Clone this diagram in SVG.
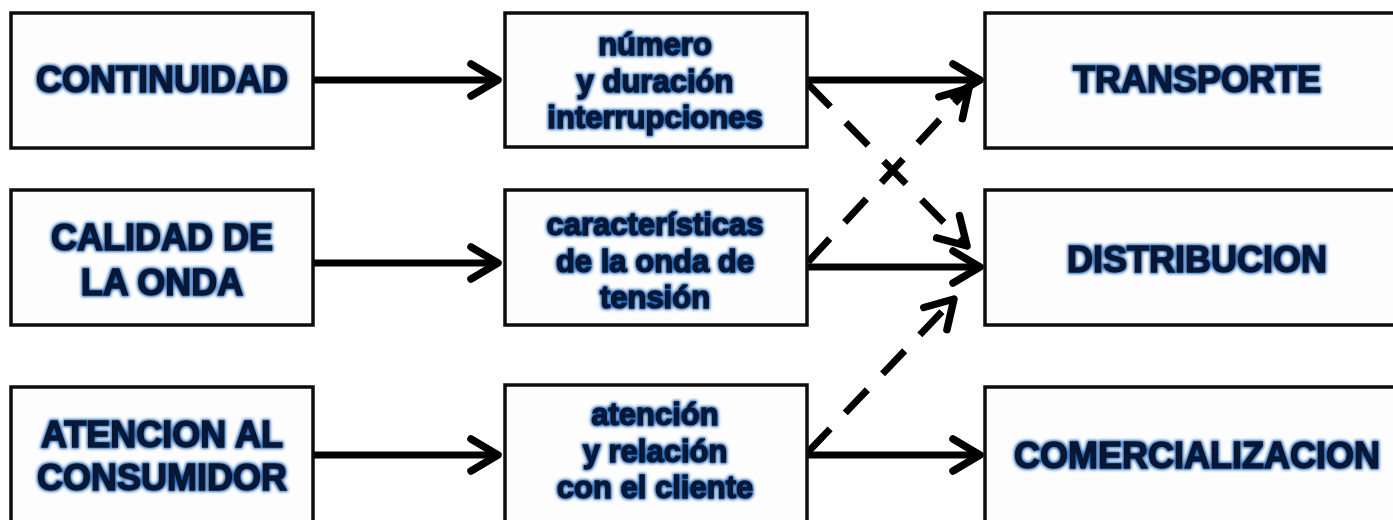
<svg xmlns="http://www.w3.org/2000/svg" width="1393" height="520" viewBox="0 0 1393 520">
<defs>
<style>
.box{fill:#fdfdfd;stroke:#0d0d0d;stroke-width:3.5}
.big{font-family:"Liberation Sans",Arial,sans-serif;font-weight:bold;font-size:36px;fill:#071633;stroke:#071633;stroke-width:1.3;text-anchor:middle;filter:url(#glow)}
.small{font-family:"Liberation Sans",Arial,sans-serif;font-weight:bold;font-size:31px;fill:#071633;stroke:#071633;stroke-width:1.3;text-anchor:middle;filter:url(#glow)}
.solid{fill:none;stroke:#000;stroke-width:7;marker-end:url(#arr)}
.dash{fill:none;stroke:#000;stroke-width:7;stroke-dasharray:32 22;marker-end:url(#arr)}
</style>
<filter id="glow" x="-10%" y="-40%" width="120%" height="180%">
<feMorphology in="SourceAlpha" operator="dilate" radius="1.2" result="d"/>
<feGaussianBlur in="d" stdDeviation="1.6" result="b"/>
<feFlood flood-color="#2060b0"/>
<feComposite in2="b" operator="in" result="g"/>
<feGaussianBlur in="SourceGraphic" stdDeviation="0.5" result="s"/>
<feMerge><feMergeNode in="g"/><feMergeNode in="s"/></feMerge>
</filter>
<marker id="arr" markerUnits="userSpaceOnUse" markerWidth="50" markerHeight="50" viewBox="-40 -25 50 50" refX="0" refY="0" orient="auto">
<path d="M-27,-16 L0,0 L-27,16" fill="none" stroke="#000" stroke-width="7.5" stroke-linecap="round" stroke-linejoin="round"/>
</marker>
</defs>
<rect width="1393" height="520" fill="#ffffff"/>
<g id="connectors">
<path class="solid" d="M313,80 H498"/>
<path class="solid" d="M313,263 H498"/>
<path class="solid" d="M313,455 H498"/>
<path class="solid" d="M807,80 H980"/>
<path class="solid" d="M807,267 H980"/>
<path class="solid" d="M807,455 H980"/>
<path class="dash" d="M808,84 L967,246"/>
<path class="dash" d="M808,262 L969,88"/>
<path class="dash" d="M808,452 L954,299"/>
</g>
<g id="n-continuidad">
<rect class="box" x="11" y="13" width="302" height="135"/>
<text class="big" x="162" y="92">CONTINUIDAD</text>
</g>
<g id="n-calidad">
<rect class="box" x="11" y="190" width="302" height="135"/>
<text class="big" x="162" y="250">CALIDAD DE</text>
<text class="big" x="162" y="295">LA ONDA</text>
</g>
<g id="n-atencion">
<rect class="box" x="11" y="387" width="302" height="150"/>
<text class="big" x="162" y="447">ATENCION AL</text>
<text class="big" x="162" y="490">CONSUMIDOR</text>
</g>
<g id="n-numero">
<rect class="box" x="505" y="13" width="302" height="134"/>
<text class="small" x="655" y="55">número</text>
<text class="small" x="655" y="92">y duración</text>
<text class="small" x="655" y="128">interrupciones</text>
</g>
<g id="n-caracteristicas">
<rect class="box" x="505" y="190" width="302" height="135"/>
<text class="small" x="655" y="235">características</text>
<text class="small" x="655" y="272">de la onda de</text>
<text class="small" x="655" y="308">tensión</text>
</g>
<g id="n-relacion">
<rect class="box" x="505" y="385" width="302" height="150"/>
<text class="small" x="655" y="425">atención</text>
<text class="small" x="655" y="462">y relación</text>
<text class="small" x="655" y="498">con el cliente</text>
</g>
<g id="n-transporte">
<rect class="box" x="985" y="13" width="420" height="135"/>
<text class="big" x="1197" y="92">TRANSPORTE</text>
</g>
<g id="n-distribucion">
<rect class="box" x="985" y="190" width="420" height="135"/>
<text class="big" x="1197" y="272">DISTRIBUCION</text>
</g>
<g id="n-comercializacion">
<rect class="box" x="985" y="387" width="420" height="150"/>
<text class="big" x="1197" y="468">COMERCIALIZACION</text>
</g>
</svg>
